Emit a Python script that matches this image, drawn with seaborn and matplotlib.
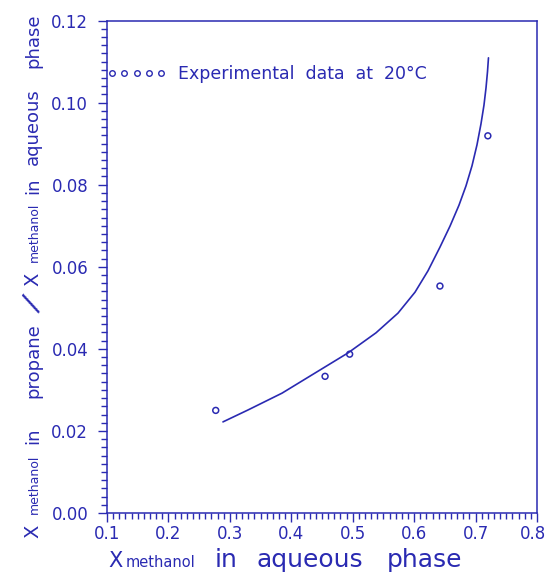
import matplotlib
matplotlib.use("Agg")
import matplotlib.pyplot as plt
from matplotlib.lines import Line2D
from matplotlib.ticker import MultipleLocator, FormatStrFormatter
from matplotlib.transforms import ScaledTranslation
import seaborn as sns

# Methanol distribution between propane and aqueous phase
x_exp = [0.277, 0.455, 0.495, 0.642, 0.720]
k_exp = [0.0250, 0.0333, 0.0387, 0.0553, 0.0919]

# correlation curve
x_fit = [0.2888, 0.3295, 0.3849, 0.4386, 0.4923, 0.5379, 0.5737, 0.6014,
         0.6225, 0.6421, 0.6584, 0.6730, 0.6844, 0.6942, 0.7023, 0.7088,
         0.7137, 0.7170, 0.7194, 0.7210]
k_fit = [0.0222, 0.0251, 0.0292, 0.0341, 0.0390, 0.0439, 0.0487, 0.0538,
         0.0590, 0.0648, 0.0699, 0.0750, 0.0797, 0.0846, 0.0897, 0.0948,
         0.0994, 0.1036, 0.1075, 0.1109]

x_ticks = [0.1, 0.2, 0.3, 0.4, 0.5, 0.6, 0.7, 0.8]
y_ticks = [0.00, 0.02, 0.04, 0.06, 0.08, 0.10, 0.12]
legend_label = "Experimental  data  at  20°C"

BLUE = "#2a2ab2"
W, H = 547, 573

sns.set_style("white")
plt.rcParams["font.family"] = ["DejaVu Sans"]

fig = plt.figure(figsize=(W / 100, H / 100), dpi=100)
ax = fig.add_axes([107 / W, 1 - 513 / H, 430 / W, 492.5 / H])

sns.lineplot(x=x_fit, y=k_fit, ax=ax, color=BLUE, linewidth=1.2,
             sort=False, estimator=None)
sns.scatterplot(x=x_exp, y=k_exp, ax=ax, marker="o", s=18,
                facecolor="none", edgecolor=BLUE, linewidth=1.1, legend=False)

ax.set_xlim(x_ticks[0], x_ticks[-1])
ax.set_ylim(y_ticks[0], y_ticks[-1])
ax.set_xticks(x_ticks)
ax.set_yticks(y_ticks)
ax.xaxis.set_major_formatter(FormatStrFormatter("%.1f"))
ax.yaxis.set_major_formatter(FormatStrFormatter("%.2f"))
ax.xaxis.set_minor_locator(MultipleLocator(0.01))
ax.yaxis.set_minor_locator(MultipleLocator(0.002))
ax.set_xlabel("")
ax.set_ylabel("")

for s in ax.spines.values():
    s.set_color(BLUE)
    s.set_linewidth(1.1)
ax.tick_params(axis="both", which="both", direction="out", color=BLUE,
               width=1.0, labelcolor=BLUE, labelsize=12,
               bottom=True, left=True, top=False, right=False)
ax.tick_params(which="major", length=6.5)
ax.tick_params(which="minor", length=4.3)
ax.tick_params(axis="y", which="major", pad=7)
ax.tick_params(axis="x", which="major", pad=2.2)

# keep the last x tick label inside the figure edge
fig.canvas.draw()
last = ax.get_xticklabels()[-1]
last.set_transform(last.get_transform() +
                   ScaledTranslation(-4 / 100, 0, fig.dpi_scale_trans))

handle = Line2D([], [], linestyle="none", marker="o", markersize=4,
                markerfacecolor="none", markeredgecolor=BLUE,
                markeredgewidth=1.0)
leg = ax.legend(handles=[handle], labels=[legend_label], numpoints=5,
                loc="center left", bbox_to_anchor=(0.0, (513 - 74.3) / 492.5),
                frameon=False, borderpad=0, borderaxespad=0,
                handlelength=3.4, handletextpad=0.7, fontsize=12.5)
for t in leg.get_texts():
    t.set_color(BLUE)


def put(text, px, py, size, rot=0, ha="left", va="baseline"):
    fig.text(px / W, 1 - py / H, text, fontsize=size, color=BLUE,
             rotation=rot, rotation_mode="anchor", ha=ha, va=va)


# x-axis title, piece by piece along the baseline
base = 567
put("X", 108, base, 15)
put("methanol", 126, base, 10.5)
put("in", 215, base, 18)
put("aqueous", 256, base, 18)
put("phase", 387, base, 18)

# y-axis title, rotated, reading upward
put("X", 38, 538, 14, 90)
put("methanol", 38, 514, 9, 90)
put("in", 38, 444, 13, 90)
put("propane", 38, 398, 13, 90)
put("/", 32.5, 303.5, 21, 60, ha="center", va="center")
put("X", 38, 286, 14, 90)
put("methanol", 38, 262, 9, 90)
put("in", 38, 194, 13, 90)
put("aqueous", 38, 165, 13, 90)
put("phase", 38, 68, 13, 90)

fig.savefig("out.png", dpi=100, facecolor="white")
